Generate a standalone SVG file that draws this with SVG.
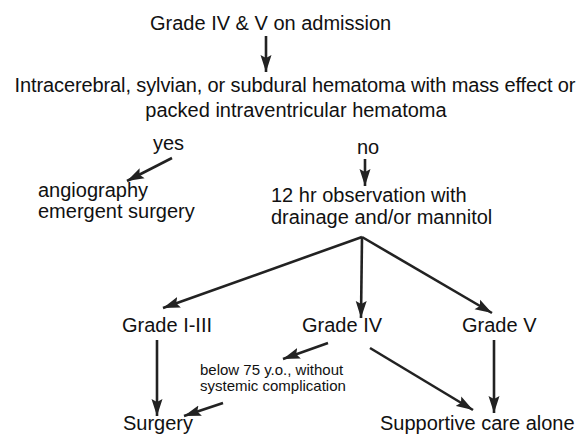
<svg xmlns="http://www.w3.org/2000/svg" width="584" height="437" viewBox="0 0 584 437">
<style>
text{font-family:"Liberation Sans",Arial,sans-serif;font-size:20px;fill:#111}
.s{font-size:15px}
.c line{stroke:#222;stroke-width:2.6;marker-end:url(#ah)}
</style>
<defs>
<marker id="ah" markerUnits="userSpaceOnUse" markerWidth="18" markerHeight="12" viewBox="0 0 18 12" refX="17" refY="6" orient="auto">
<path d="M0,0.5 L17,6 L0,11.5 L3,6 z" fill="#222"/>
</marker>
</defs>
<rect width="584" height="437" fill="#fff"/>
<g id="n-admission"><text x="150" y="30">Grade IV &amp; V on admission</text></g>
<g id="n-hematoma"><text x="295" y="92" text-anchor="middle" textLength="561">Intracerebral, sylvian, or subdural hematoma with mass effect or</text><text x="296" y="117" text-anchor="middle">packed intraventricular hematoma</text></g>
<g id="n-yes"><text x="153" y="150">yes</text></g>
<g id="n-no"><text x="357" y="154">no</text></g>
<g id="n-angio"><text x="38" y="197">angiography</text><text x="38" y="218">emergent surgery</text></g>
<g id="n-obs"><text x="271" y="202">12 hr observation with</text><text x="271" y="224">drainage and/or mannitol</text></g>
<g id="n-g13"><text x="122" y="332">Grade I-III</text></g>
<g id="n-g4"><text x="302" y="332">Grade IV</text></g>
<g id="n-g5"><text x="462" y="332">Grade V</text></g>
<g id="n-cond"><text class="s" x="200" y="375">below 75 y.o., without</text><text class="s" x="200" y="391">systemic complication</text></g>
<g id="n-surgery"><text x="123" y="430">Surgery</text></g>
<g id="n-supportive"><text x="380" y="430">Supportive care alone</text></g>
<g class="c" id="connectors">
<line x1="266" y1="36" x2="266" y2="72"/>
<line x1="172" y1="158" x2="127" y2="181"/>
<line x1="365" y1="159" x2="365" y2="186"/>
<line x1="362" y1="237" x2="163" y2="308"/>
<line x1="362" y1="237" x2="361" y2="318"/>
<line x1="362" y1="237" x2="492" y2="313"/>
<line x1="157" y1="340" x2="157" y2="416"/>
<line x1="328" y1="343" x2="283" y2="359"/>
<line x1="223" y1="403" x2="184" y2="416"/>
<line x1="370" y1="348" x2="473" y2="410"/>
<line x1="494" y1="340" x2="494" y2="413"/>
</g>
</svg>
